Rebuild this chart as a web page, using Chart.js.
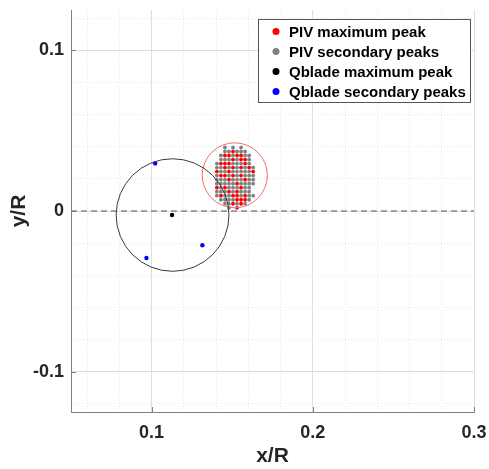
<!DOCTYPE html>
<html>
<head>
<meta charset="utf-8">
<script src="https://cdn.jsdelivr.net/npm/chart.js@4.4.1/dist/chart.umd.min.js"></script>
<style>
  body { margin: 0; background: #fff; }
  #wrap { width: 489px; height: 469px; }
</style>
</head>
<body>
<div id="wrap"><canvas id="peaks" width="489" height="469"></canvas></div>
<script>
// PIV peaks (x/R, y/R)
const pivMaxPeaks = [
  [.1505,.037],
  [.1455,.0345],[.148,.0345],[.153,.0345],[.1555,.0345],
  [.1505,.032],[.1555,.032],[.158,.032],
  [.143,.0295],[.1455,.0295],[.148,.0295],[.158,.0295],
  [.1455,.027],[.1505,.027],[.1555,.027],[.1605,.027],
  [.1405,.0245],[.148,.0245],[.163,.0245],
  [.143,.022],[.1455,.022],[.1505,.022],[.1555,.022],
  [.148,.0195],[.158,.0195],
  [.153,.017],
  [.1405,.0145],[.1455,.0145],[.1555,.0145],
  [.148,.012],[.153,.012],
  [.143,.0095],[.1505,.0095],[.153,.0095],[.158,.0095],
  [.153,.007],[.1555,.007],[.158,.007],
  [.1505,.0045],[.1555,.0045],
  [.153,.002]
];
const pivSecondaryPeaks = [
  [.1455,.0395],[.1505,.0395],[.1555,.0395],
  [.1455,.037],[.148,.037],[.153,.037],[.1555,.037],[.158,.037],
  [.143,.0345],[.1505,.0345],[.158,.0345],[.1605,.0345],
  [.143,.032],[.1455,.032],[.148,.032],[.153,.032],[.1605,.032],
  [.1405,.0295],[.1505,.0295],[.153,.0295],[.1555,.0295],[.1605,.0295],
  [.1405,.027],[.143,.027],[.148,.027],[.153,.027],[.158,.027],[.163,.027],
  [.143,.0245],[.1455,.0245],[.1505,.0245],[.153,.0245],[.1555,.0245],[.158,.0245],[.1605,.0245],
  [.1405,.022],[.148,.022],[.153,.022],[.158,.022],[.1605,.022],[.163,.022],
  [.1405,.0195],[.143,.0195],[.1455,.0195],[.1505,.0195],[.153,.0195],[.1555,.0195],[.1605,.0195],[.163,.0195],
  [.1405,.017],[.143,.017],[.1455,.017],[.148,.017],[.1505,.017],[.1555,.017],[.158,.017],[.1605,.017],[.163,.017],
  [.143,.0145],[.148,.0145],[.1505,.0145],[.153,.0145],[.158,.0145],[.1605,.0145],
  [.1405,.012],[.143,.012],[.1455,.012],[.1505,.012],[.1555,.012],[.158,.012],[.1605,.012],
  [.1405,.0095],[.1455,.0095],[.148,.0095],[.1555,.0095],[.1605,.0095],[.163,.0095],
  [.143,.007],[.1455,.007],[.148,.007],[.1505,.007],[.1605,.007],
  [.1455,.0045],[.148,.0045],[.153,.0045],[.158,.0045],
  [.148,.002]
];
// Qblade peaks
const qbladeMaxPeak = [[.1127,-.0025]];
const qbladeSecondaryPeaks = [[.1022,.0296],[.1315,-.0213],[.0968,-.0292]];

// circles: [centre x, centre y, radius]
const pivCircle = [.1516, .0222, .0202];
const qbladeCircle = [.1130, -.0025, .0350];

const zeroLineX = [.05, .3];

const xTicks = [.06,.08,.1,.12,.14,.16,.18,.2,.22,.24,.26,.28,.3];
const yTicks = [-.12,-.1,-.08,-.06,-.04,-.02,0,.02,.04,.06,.08,.1,.12];
const xMajorLabels = { "0.1": "0.1", "0.2": "0.2", "0.3": "0.3" };
const yMajorLabels = { "-0.1": "-0.1", "0.0": "0", "0.1": "0.1" };

const FONT = "'Liberation Sans', Arial, sans-serif";
const toPts = a => a.map(p => ({ x: p[0], y: p[1] }));
const isMajor = v => Math.abs(v * 10 - Math.round(v * 10)) < 1e-6;
const noPad = s => { s.paddingTop = 0; s.paddingBottom = 0; s.paddingLeft = 0; s.paddingRight = 0; };

const circlesPlugin = {
  id: "circles",
  afterDatasetsDraw(chart) {
    const { ctx, scales: { x, y } } = chart;
    const draw = (c, color) => {
      const cx = x.getPixelForValue(c[0]);
      const cy = y.getPixelForValue(c[1]);
      const rx = x.getPixelForValue(c[0] + c[2]) - cx;
      const ry = cy - y.getPixelForValue(c[1] + c[2]);
      ctx.save();
      ctx.strokeStyle = color;
      ctx.lineWidth = 1;
      ctx.beginPath();
      ctx.ellipse(cx, cy, rx, ry, 0, 0, Math.PI * 2);
      ctx.stroke();
      ctx.restore();
    };
    draw(pivCircle, "#f26b6b");
    draw(qbladeCircle, "#3a3a3a");
  }
};

const ticksPlugin = {
  id: "innerTicks",
  afterDraw(chart) {
    const { ctx, chartArea: a, scales: { x, y } } = chart;
    ctx.save();
    ctx.strokeStyle = "#808080";
    ctx.lineWidth = 1;
    ctx.beginPath();
    xTicks.filter(isMajor).forEach(v => {
      const px = Math.round(x.getPixelForValue(v)) + 0.5;
      ctx.moveTo(px, a.bottom); ctx.lineTo(px, a.bottom - 5);
    });
    yTicks.filter(isMajor).forEach(v => {
      const py = Math.round(y.getPixelForValue(v)) + 0.5;
      ctx.moveTo(a.left, py); ctx.lineTo(a.left + 5, py);
    });
    ctx.stroke();
    ctx.restore();
  }
};

const legendPlugin = {
  id: "boxLegend",
  afterDraw(chart) {
    const { ctx, chartArea: a } = chart;
    const items = chart.data.datasets.filter(d => d.inLegend);
    const left = a.right - 216, top = a.top + 9, w = 212, h = 83;
    ctx.save();
    ctx.fillStyle = "#fff";
    ctx.fillRect(left, top, w, h);
    ctx.strokeStyle = "#555";
    ctx.lineWidth = 1;
    ctx.strokeRect(left + 0.5, top + 0.5, w, h);
    ctx.font = "bold 15px " + FONT;
    ctx.textBaseline = "middle";
    items.forEach((d, i) => {
      const cy = top + 12.5 + i * 20;
      ctx.fillStyle = d.backgroundColor;
      ctx.beginPath();
      ctx.arc(left + 18, cy, 3.5, 0, Math.PI * 2);
      ctx.fill();
      ctx.fillStyle = "#000";
      ctx.fillText(d.label, left + 31, cy + 1);
    });
    ctx.restore();
  }
};

new Chart(document.getElementById("peaks"), {
  type: "scatter",
  data: {
    datasets: [
      { label: "PIV maximum peak", data: toPts(pivMaxPeaks), backgroundColor: "#ff0000",
        borderWidth: 0, pointRadius: 1.9, inLegend: true },
      { label: "PIV secondary peaks", data: toPts(pivSecondaryPeaks), backgroundColor: "#808080",
        borderWidth: 0, pointRadius: 1.9, inLegend: true },
      { label: "Qblade maximum peak", data: toPts(qbladeMaxPeak), backgroundColor: "#000000",
        borderWidth: 0, pointRadius: 2.2, inLegend: true },
      { label: "Qblade secondary peaks", data: toPts(qbladeSecondaryPeaks), backgroundColor: "#0000ff",
        borderWidth: 0, pointRadius: 2.2, inLegend: true },
      { label: "zero", data: zeroLineX.map(v => ({ x: v, y: 0 })), showLine: true,
        borderColor: "#555555", borderWidth: 1.2, borderDash: [6, 4], pointRadius: 0 }
    ]
  },
  options: {
    responsive: false,
    animation: false,
    layout: { padding: { top: 10, right: 15, left: 0, bottom: 0 } },
    plugins: { legend: { display: false }, tooltip: { enabled: false } },
    scales: {
      x: {
        type: "linear", min: 0.05, max: 0.3,
        afterBuildTicks: s => { s.ticks = xTicks.map(v => ({ value: v })); },
        afterFit: s => { s.height = 57; noPad(s); },
        ticks: {
          autoSkip: false, maxRotation: 0, padding: 10, color: "#262626",
          font: { family: FONT, size: 18, weight: "bold" },
          callback: v => xMajorLabels[v.toFixed(1)] && isMajor(v) ? xMajorLabels[v.toFixed(1)] : ""
        },
        grid: {
          drawTicks: false,
          color: c => c.tick && isMajor(c.tick.value) ? "#dedede" : "#e6e6e6"
        },
        border: {
          display: true, color: "#808080", width: 1,
          dash: c => c.tick && !isMajor(c.tick.value) ? [1, 2] : []
        },
        title: {
          display: true, text: "x/R", color: "#262626", padding: { top: 0, bottom: 0 },
          font: { family: FONT, size: 21, weight: "bold" }
        }
      },
      y: {
        type: "linear", min: -0.125, max: 0.125,
        afterBuildTicks: s => { s.ticks = yTicks.map(v => ({ value: v })); },
        afterFit: s => { s.width = 71; noPad(s); },
        ticks: {
          autoSkip: false, padding: 7, color: "#262626",
          font: { family: FONT, size: 18, weight: "bold" },
          callback: v => isMajor(v) ? yMajorLabels[(Math.abs(v) < 1e-9 ? 0 : v).toFixed(1)] : ""
        },
        grid: {
          drawTicks: false,
          color: c => c.tick && isMajor(c.tick.value) ? "#dedede" : "#e6e6e6"
        },
        border: {
          display: true, color: "#808080", width: 1,
          dash: c => c.tick && !isMajor(c.tick.value) ? [1, 2] : []
        },
        title: {
          display: true, text: "y/R", color: "#262626", padding: { top: 7, bottom: 0 },
          font: { family: FONT, size: 21, weight: "bold" }
        }
      }
    }
  },
  plugins: [circlesPlugin, ticksPlugin, legendPlugin]
});
</script>
</body>
</html>
